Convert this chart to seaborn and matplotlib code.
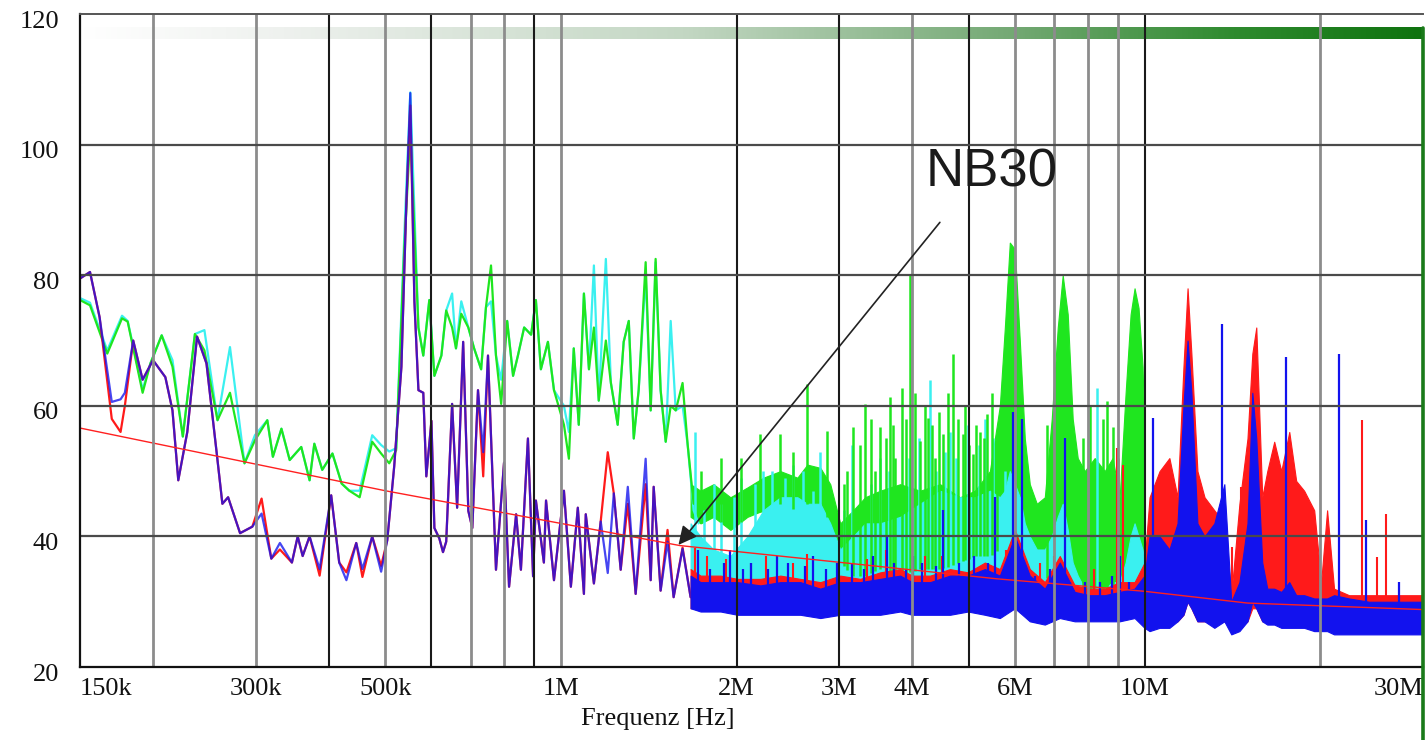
import numpy as np
import pandas as pd
import matplotlib
matplotlib.use("Agg")
import matplotlib.pyplot as plt
import matplotlib.transforms as mtransforms
from matplotlib.colors import LinearSegmentedColormap
from matplotlib.lines import Line2D
from matplotlib.ticker import NullLocator
import seaborn as sns

# ------------------------------------------------------------------ data
# resolved low-frequency part of the red / blue traces (kHz, dBuV)
rb_f_khz = [150, 156, 162, 170, 176, 179, 185, 192, 200, 210, 216, 221, 229, 238, 247, 257,
            263, 269, 282, 296, 307, 319, 330, 346, 354, 361, 371, 386, 404, 417, 429, 446,
            457, 475, 492, 504, 518, 533, 543, 552, 561, 570, 581, 588, 600, 607, 619, 628,
            636, 651, 664, 680, 694, 705, 721, 736, 750, 774, 799, 815, 838, 854, 878, 896,
            906, 935, 943, 973, 1012, 1040, 1069, 1095, 1103, 1139, 1170, 1203, 1232, 1266,
            1302, 1343, 1397, 1425, 1442, 1482, 1523, 1560, 1616, 1668]
blue_db = [79.5, 80.5, 73.6, 60.6, 61, 62, 70, 64, 67, 64.4, 59.3, 48.6, 56, 70.6, 66.5, 53,
           45, 46, 40.5, 41.5, 43.5, 36.6, 39, 36, 40, 37, 40, 35, 46.3, 36, 33.3, 39,
           35, 40, 34.6, 39.4, 50.7, 66, 90, 107.9, 76, 62.4, 62, 49.2, 57.7, 41.3, 39.7, 37.6,
           39.2, 60.3, 44.4, 69.8, 43.9, 41.3, 62.4, 52.9, 67.7, 34.9, 51.3, 32.3, 43.4, 34.9, 55, 33.9,
           45.5, 36, 45.5, 33.3, 47, 32.3, 44.4, 31.2, 43.4, 32.8, 42.3, 34.4, 46.6, 34.9,
           47.6, 31.2, 51.9, 33.3, 47.6, 31.7, 39.2, 30.7, 38.1, 30.7]
red_db = [79.5, 80.5, 73.6, 58, 56, 60, 70, 64, 67, 64.4, 59.3, 48.6, 56, 70.6, 66.5, 53,
          45, 46, 40.5, 41.5, 45.8, 36.6, 38, 36, 40, 37, 40, 34, 46.3, 36, 34.5, 39,
          33.8, 40, 35.5, 39.4, 50.7, 66, 90, 106, 76, 62.4, 62, 49.2, 57.7, 41.3, 39.7, 37.6,
          39.2, 60.3, 44.4, 69.8, 43.9, 41.3, 62.4, 49.2, 67.7, 34.9, 51.3, 32.3, 43.4, 34.9, 55, 33.9,
          45.5, 36, 45.5, 33.3, 47, 32.3, 44.4, 31.2, 43.4, 32.8, 42.3, 52.9, 46.6, 34.9,
          45, 31.2, 48, 33.3, 47.6, 31.7, 41, 30.7, 38.3, 30.7]

# resolved low-frequency part of the green / cyan traces (kHz, dBuV)
gc_f_khz = [150, 156, 167, 177, 181, 192, 198, 207, 216, 225, 236, 245, 258, 271, 287, 299,
            314, 321, 332, 343, 359, 371, 378, 390, 406, 421, 434, 452, 475, 492, 508, 522,
            539, 552, 570, 581, 595, 607, 624, 636, 651, 661, 675, 694, 710, 730, 744, 759,
            774, 790, 809, 828, 844, 865, 889, 906, 924, 950, 973, 1012, 1032, 1052, 1073,
            1095, 1117, 1139, 1161, 1194, 1218, 1251, 1281, 1307, 1333, 1359, 1397, 1425,
            1453, 1482, 1512, 1542, 1573, 1616, 1649, 1688, 1721]
green_db = [76.2, 75.4, 68, 73.4, 72.9, 62, 66.5, 70.8, 66, 55.3, 71, 68.5, 57.8, 62, 51.2, 54.7,
            57.8, 52.2, 56.5, 51.7, 53.7, 48.6, 54.2, 50.2, 52.7, 48.1, 47, 46, 54.5, 52.7, 51.2, 53.2,
            84, 102, 72, 67.7, 76.2, 64.6, 67.7, 74.6, 72, 68.8, 74.1, 72, 68.8, 65.6, 75.1, 81.5,
            67.7, 60.3, 73, 64.6, 67.7, 72, 70.9, 76.2, 65.6, 69.8, 62.4, 57.1, 51.9, 68.8, 57.1,
            77.2, 65.6, 72, 60.8, 70, 63.5, 57.1, 69.8, 73, 55, 62.4, 82, 59.3,
            82.5, 62.4, 54.5, 60, 59.3, 63.5, 54, 45, 46.6]
cyan_db = [76.5, 75.8, 68.5, 73.8, 73, 62.5, 66.5, 70.8, 67, 55.3, 71, 71.6, 57.8, 69, 51.2, 55.5,
           57.8, 52.2, 56.5, 51.7, 53.7, 48.6, 54.2, 50.2, 52.7, 48.1, 47, 47, 55.5, 54, 53, 53.5,
           86, 108, 72, 67.7, 76.2, 64.6, 67.7, 74.6, 77.2, 68.8, 76, 72, 68.8, 65.6, 75.1, 76,
           67.7, 64, 73, 64.6, 67.7, 72, 70.9, 76.2, 65.6, 69.8, 62.4, 60, 56, 68.8, 57.1,
           77.2, 65.6, 81.5, 60.8, 82.5, 63.5, 57.1, 69.8, 73, 55, 62.4, 80, 59.3,
           82, 62.4, 54.5, 73, 59.3, 60, 54, 44, 42]

# dense high-frequency part: red / blue envelopes (MHz, dBuV)
rb_band_mhz = [1.668, 1.735, 1.877, 2.007, 2.197, 2.377, 2.572, 2.783, 3.010, 3.257, 3.524, 3.813,
               3.998, 4.291, 4.642, 4.983, 5.327, 5.650, 5.995, 6.359, 6.747, 7.157, 7.592, 8.054,
               8.545, 9.065, 9.614, 10.0, 10.20, 10.61, 11.03, 11.39, 11.66, 11.85, 12.03, 12.32,
               12.67, 13.17, 13.70, 14.08, 14.54, 15.01, 15.30, 15.54, 15.91, 16.23, 16.68, 17.15,
               17.70, 18.19, 18.77, 19.53, 20.07, 20.55, 21.12, 22.41, 24.24, 26.23, 28.38, 30.0]
blue_lo = [29, 28.5, 28.5, 28, 28, 28, 28, 27.5, 28, 28, 28, 28.5,
           28, 28, 28, 28.5, 28, 27.5, 29, 27, 26.5, 27.5, 27, 27,
           27, 27, 27.5, 26, 25.5, 26, 26, 27, 28, 30, 29, 27,
           27, 26, 27, 25, 25.5, 27, 30, 29, 27, 26.5, 26.5, 26,
           26, 26, 26, 25.5, 25.5, 25.5, 25, 25, 25, 25, 25, 25]
blue_hi = [34, 33, 33, 33, 32.5, 33, 33, 32, 33, 33, 33.5, 34,
           33, 33, 34, 34, 35, 34, 40, 34, 32, 36, 31.5, 31,
           31, 31.5, 32, 34, 40, 40, 38, 42, 60, 70, 62, 42,
           40, 42, 48, 30, 33, 42, 62, 55, 36, 32, 32, 31.5,
           33, 31, 31, 30.5, 30.5, 30.5, 31, 30.5, 30, 30, 30, 30]
red_lo = [29, 29, 29, 28.5, 28.5, 28.5, 28.5, 28, 28.5, 28.5, 28.5, 29,
          28.5, 28.5, 28.5, 29, 28.5, 28, 29, 28, 27, 28, 27.5, 27.5,
          27.5, 27.5, 28, 27, 27, 27, 27, 27, 28, 30, 29, 27,
          27, 27, 27, 26, 26, 27, 29, 29, 27, 27, 27, 27,
          27, 27, 27, 27, 26, 26, 26, 26, 26, 26, 26, 26]
red_hi = [35, 34, 34, 33.5, 33.5, 34, 33.5, 33, 34, 33.5, 34.5, 35,
          34, 34, 35, 34.5, 36, 35, 41, 35, 33, 37, 32.5, 32,
          32, 33, 33, 36, 46, 50, 52, 46, 66, 78, 68, 50,
          46, 44, 42, 31, 45, 55, 68, 72, 46, 50, 54.5, 50,
          56, 48.5, 47, 44, 33, 44, 32, 31, 31, 31, 31, 31]

# dense high-frequency part: green / cyan envelopes (MHz, dBuV)
gc_band_mhz = [1.668, 1.735, 1.826, 1.952, 2.087, 2.223, 2.377, 2.542, 2.644, 2.783, 2.894, 3.010,
               3.168, 3.321, 3.524, 3.813, 4.125, 4.463, 4.829, 5.122, 5.433, 5.650, 5.763, 5.877,
               5.995, 6.113, 6.235, 6.359, 6.538, 6.747, 6.934, 7.101, 7.241, 7.386, 7.532, 7.683,
               7.897, 8.215, 8.545, 8.816, 9.065, 9.281, 9.465, 9.614, 9.766, 9.922, 10.0]
green_lo = [43, 42, 43, 41, 43, 44, 45, 44, 45, 45, 42, 36,
            34, 34, 35, 34, 35, 35, 36, 37, 37, 38, 42, 48,
            46, 40, 37, 35, 34, 33, 35, 38, 40, 38, 33, 30,
            29, 29, 29, 29, 29, 31, 36, 38, 36, 34, 33]
green_hi = [48, 47, 48, 46, 47.5, 49, 50, 49, 51, 50.5, 48, 42,
            44, 46, 47, 48, 47, 48, 46, 47, 50, 60, 72, 85,
            84, 70, 55, 48, 45, 46, 58, 72, 80, 74, 58, 52,
            50, 52, 50, 52, 46, 62, 74, 78, 75, 66, 55]
cyan_lo = [35, 34, 33, 33.5, 33, 33, 33, 32, 32, 31, 31, 30,
           31, 31, 31, 31, 31, 32, 30, 30, 30, 30, 31, 32,
           31, 30, 30, 29.5, 29.5, 29.5, 30, 30, 30, 30, 29.5, 29,
           29, 29, 29, 29, 29, 29.5, 30, 30, 30, 30, 30]
cyan_hi = [42, 40, 38, 37, 40, 44, 46, 46, 45, 45, 42, 38,
           40, 42, 42, 43, 45, 47, 46, 46, 47, 46, 47, 50,
           48, 46, 42, 40, 38, 38, 40, 43, 45, 41, 36, 34,
           32, 32, 32, 33, 33, 36, 40, 42, 40, 38, 36]

# narrow spectral lines (MHz, peak dBuV)
green_spk_mhz = [1.735, 1.877, 2.031, 2.197, 2.377, 2.502, 2.644, 2.860, 3.050, 3.094, 3.168, 3.250,
                 3.321, 3.400, 3.455, 3.524, 3.600, 3.665, 3.700, 3.738, 3.843, 3.900, 3.966, 4.050,
                 4.125, 4.200, 4.257, 4.330, 4.375, 4.450, 4.517, 4.600, 4.697, 4.790, 4.885, 4.930,
                 5.000, 5.082, 5.150, 5.224, 5.300, 5.370, 5.480, 5.585, 6.800, 7.834, 8.054, 8.478,
                 8.610, 8.816, 8.992]
green_spk_db = [50, 52, 52, 55.7, 55.7, 53, 63.3, 56.2, 48, 50, 56.7, 54,
                60.3, 58, 50, 56.7, 55, 61.3, 57, 52, 62.8, 58, 80, 62,
                54.6, 60, 58.2, 57, 52, 59, 55.7, 62, 68, 58, 55.7, 60,
                54, 52.6, 57, 56, 55, 58.7, 62, 51.6, 57, 55, 60, 58,
                60.8, 56.7, 52]
cyan_spk_mhz = [1.70, 1.76, 1.826, 1.88, 1.98, 2.031, 2.15, 2.223, 2.30, 2.42, 2.502, 2.60,
                2.70, 2.783, 3.05, 3.156, 3.40, 3.524, 3.65, 3.95, 4.10, 4.291, 4.40, 4.55,
                4.642, 4.75, 4.983, 5.20, 5.327, 5.50, 5.763, 8.278]
cyan_spk_db = [56, 44, 48, 45, 46, 49, 48, 50, 50, 49, 51, 50,
               47, 53, 44, 54, 48, 52, 50, 52, 55, 64, 50, 53,
               56, 52, 57, 54, 58, 55, 50, 62.8]
blue_spk_mhz = [1.715, 1.80, 1.90, 1.952, 2.05, 2.12, 2.26, 2.349, 2.45, 2.62, 2.70, 2.85,
                2.974, 3.15, 3.30, 3.42, 3.622, 3.72, 3.90, 4.013, 4.15, 4.40, 4.517, 4.80,
                5.10, 5.40, 5.541, 5.948, 6.163, 6.50, 6.90, 7.299, 7.45, 7.90, 8.40, 8.80,
                9.065, 9.40, 10.32, 13.59, 17.49, 21.54, 23.96, 27.29]
blue_spk_db = [38, 35, 36, 38, 35, 36, 35, 37, 36, 35.5, 37, 35,
               36, 36, 35, 37, 40, 36, 35, 37, 36, 35.5, 44, 36,
               37, 36, 46, 59, 58, 34, 35, 55, 33, 33, 33, 34,
               37, 33, 58.2, 72.6, 67.5, 68, 42.5, 33]
red_spk_mhz = [1.70, 1.78, 1.92, 2.113, 2.25, 2.50, 2.644, 3.35, 3.60, 4.207, 4.50, 5.00,
               5.80, 6.616, 7.00, 8.20, 8.957, 9.173, 14.14, 14.65, 23.58, 25.02, 25.92]
red_spk_db = [38.3, 37, 36.5, 36, 37, 36, 37.3, 36.5, 38, 37, 37, 36,
              38, 36, 37, 35, 53.6, 51, 38.4, 47.6, 57.8, 36.9, 43.5]

# NB30 limit line
limit_mhz = [0.15, 0.5, 1.6, 5.6, 10, 15, 30]
limit_db = [56.6, 47, 38.6, 33.5, 31.6, 29.8, 28.8]

# axes
xtick_hz = [150e3, 300e3, 500e3, 1e6, 2e6, 3e6, 4e6, 6e6, 10e6, 30e6]
xtick_labels = ["150k", "300k", "500k", "1M", "2M", "3M", "4M", "6M", "10M", "30M"]
ytick_db = [20, 40, 60, 80, 100, 120]
grid_dark_hz = [400e3, 600e3, 900e3, 2e6, 3e6, 5e6, 10e6]
grid_gray_hz = [200e3, 300e3, 500e3, 700e3, 800e3, 1e6, 4e6, 6e6, 7e6, 8e6, 9e6, 20e6]
grid_y_db = [40, 60, 80, 100]

C_RED = "#ff1a1a"
C_BLUE = "#1212ee"
C_CYAN = "#3af0f0"
C_GREEN = "#1fe61f"

# ------------------------------------------------------------------ plot
sns.set_style("white")
plt.rcParams["font.family"] = ["Liberation Serif", "DejaVu Serif"]

fig = plt.figure(figsize=(14.27, 7.40), dpi=100)
ax = fig.add_axes([0.0561, 0.0986, 0.9411, 0.8824])
ax.set_xscale("log")

def sparse(fk, db, color, z, lw=1.6, alpha=1.0):
    df = pd.DataFrame({"f": np.array(fk) * 1e3, "db": db})
    sns.lineplot(data=df, x="f", y="db", color=color, lw=lw, alpha=alpha,
                 estimator=None, sort=False, legend=False, ax=ax, zorder=z)

def band(fm, lo, hi, color, z):
    ax.fill_between(np.array(fm) * 1e6, lo, hi, color=color, lw=0.8, ec=color, zorder=z)

def spikes(fm, peak, band_f, band_lo, color, z, lw=1.8, alpha=1.0):
    f = np.array(fm) * 1e6
    floor = np.interp(np.log10(f), np.log10(np.array(band_f) * 1e6), band_lo)
    ax.vlines(f, floor, peak, colors=color, lw=lw, alpha=alpha, zorder=z)

# green / cyan
band(gc_band_mhz, green_lo, green_hi, C_GREEN, 2.0)
sparse(gc_f_khz, cyan_db, C_CYAN, 2.1)
sparse(gc_f_khz, green_db, C_GREEN, 2.2)
band(gc_band_mhz, cyan_lo, cyan_hi, C_CYAN, 2.3)
spikes(cyan_spk_mhz, cyan_spk_db, gc_band_mhz, cyan_lo, C_CYAN, 2.35)
spikes(green_spk_mhz, green_spk_db, gc_band_mhz, green_lo, C_GREEN, 2.4)

# red / blue
sparse(rb_f_khz, red_db, C_RED, 2.6)
sparse(rb_f_khz, blue_db, C_BLUE, 2.7, alpha=0.78)
band(rb_band_mhz, red_lo, red_hi, C_RED, 2.8)
spikes(red_spk_mhz, red_spk_db, rb_band_mhz, red_lo, C_RED, 2.85, lw=1.5)
band(rb_band_mhz, blue_lo, blue_hi, C_BLUE, 2.9)
spikes(blue_spk_mhz, blue_spk_db, rb_band_mhz, blue_lo, C_BLUE, 2.95, lw=1.6)

# limit line
sns.lineplot(x=np.array(limit_mhz) * 1e6, y=limit_db, color="#ff2020", lw=1.0,
             estimator=None, legend=False, ax=ax, zorder=3.0)

# grid (drawn over the traces, as in the original)
for g in grid_gray_hz:
    ax.axvline(g, color="#8c8c8c", lw=2.0, zorder=3.4)
for g in grid_dark_hz:
    ax.axvline(g, color="#1a1a1a", lw=1.5, zorder=3.5)
for g in grid_y_db:
    ax.axhline(g, color="#4a4a4a", lw=1.6, zorder=3.5)

ax.set_xlim(150e3, 30e6)
ax.set_ylim(20, 120)

# gradient band at the top
cmap = LinearSegmentedColormap.from_list(
    "band", [(0.0, "#ffffff"), (0.15, "#eef1ee"), (0.45, "#c3d7c3"),
             (0.7, "#72a872"), (0.86, "#2f8b2f"), (1.0, "#0f730f")])
band_ax = ax.inset_axes([0.0, 0.962, 1.0, 0.018])
band_ax.imshow(np.linspace(0, 1, 512)[None, :], aspect="auto", cmap=cmap,
               extent=[0, 1, 0, 1], interpolation="bilinear")
band_ax.set_xlim(0, 1)
band_ax.set_ylim(0, 1)
band_ax.axis("off")
band_ax.set_zorder(1.0)

# ticks
ax.set_xticks(xtick_hz)
ax.set_xticklabels(xtick_labels)
ax.xaxis.set_minor_locator(NullLocator())
ax.set_yticks(ytick_db)
ax.set_yticklabels([str(v) for v in ytick_db])
ax.tick_params(axis="x", length=0, pad=8, labelsize=19, colors="#111111")
ax.tick_params(axis="y", length=0, pad=15, labelsize=19, colors="#111111")
xl = ax.get_xticklabels()
xl[0].set_ha("left")
xl[-1].set_ha("right")
for lab in ax.get_yticklabels():
    lab.set_transform(lab.get_transform() +
                      mtransforms.ScaledTranslation(0, -5 / 100, fig.dpi_scale_trans))

ax.set_xlabel("Frequenz [Hz]", fontsize=19, color="#111111")
ax.xaxis.set_label_coords(0.43, -0.062)
ax.set_ylabel("")

# frame
for s in ["left", "bottom"]:
    ax.spines[s].set_color("#111111")
    ax.spines[s].set_linewidth(1.6)
ax.spines["top"].set_color("#555555")
ax.spines["top"].set_linewidth(1.4)
ax.spines["right"].set_visible(False)
for s in ax.spines.values():
    s.set_zorder(4)
fig.add_artist(Line2D([1423 / 1427, 1423 / 1427], [0.0, 1 - 28 / 740],
                      transform=fig.transFigure, color="#1a7a1a", lw=2.6))

# annotation
ax.text(5.46e6, 95.8, "NB30", fontsize=38, family=["Liberation Sans", "DejaVu Sans"],
        color="#1a1a1a", ha="center", va="center", zorder=6)
ax.annotate("", xy=(1.59e6, 38.7), xytext=(4.46e6, 88.1),
            arrowprops=dict(arrowstyle="-|>", color="#222222", lw=1.2,
                            mutation_scale=28, shrinkA=0, shrinkB=0),
            zorder=6)

fig.savefig("out.png", dpi=100)
